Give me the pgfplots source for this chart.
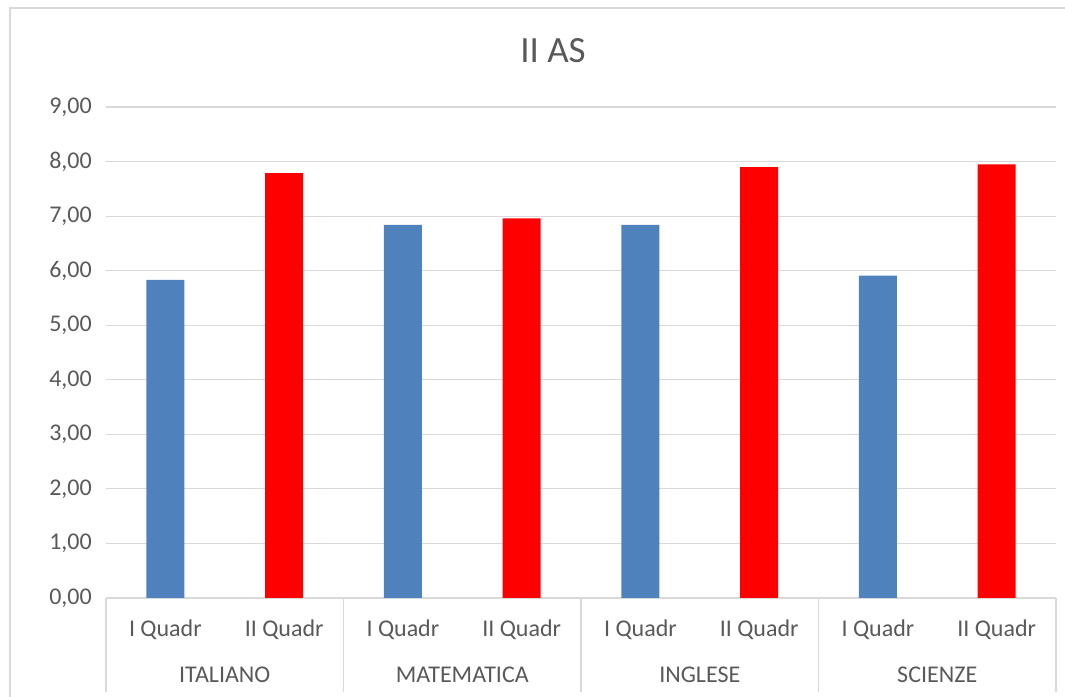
\documentclass[border=0pt]{standalone}
\usepackage{pgfplots}
\pgfplotsset{compat=1.18}
\usepackage{fontspec}
\setmainfont{Carlito}
\definecolor{txt}{HTML}{595959}
\definecolor{grd}{HTML}{D9D9D9}
\definecolor{bblue}{HTML}{4F81BD}
\definecolor{bred}{HTML}{FF0000}
\begin{document}
\begin{tikzpicture}[x=1bp,y=1bp]
\useasboundingbox (0,0) rectangle (1065,697);
\draw[grd, line width=1.2bp] (10,0) -- (10,689) -- (1065,689);
\node[txt, font=\fontsize{37bp}{44bp}\selectfont] at (553,646) {II AS};
\begin{axis}[at={(106bp,99bp)}, anchor=south west, scale only axis,
  width=950bp, height=491bp,
  xmin=-0.5, xmax=7.5, ymin=0, ymax=9, ytick={0,1,...,9},
  axis line style={draw=none},
  ymajorgrids, grid style={grd, line width=1.2bp},
  ytick style={draw=none}, xtick style={draw=none},
  xtick={0,1,...,7},
  xticklabels={I Quadr, II Quadr, I Quadr, II Quadr, I Quadr, II Quadr, I Quadr, II Quadr},
  xticklabel style={anchor=center, inner sep=0pt, yshift=-32bp, text=txt, font=\fontsize{24bp}{28bp}\selectfont},
  yticklabel style={anchor=east, inner sep=0pt, xshift=-14bp, text=txt, font=\fontsize{24bp}{28bp}\selectfont},
  /pgf/number format/.cd, fixed, fixed zerofill, precision=2, use comma, assume math mode=true,
  /pgfplots/.cd,
  clip=false,
]
\addplot[ybar, bar shift=0pt, bar width=38bp, fill=bblue, draw=none]
  coordinates {(0,5.83) (2,6.84) (4,6.84) (6,5.91)};
\addplot[ybar, bar shift=0pt, bar width=38bp, fill=bred, draw=none]
  coordinates {(1,7.79) (3,6.96) (5,7.90) (7,7.95)};
\draw[grd, line width=1.2bp] (axis cs:-0.5,0) -- ([yshift=-94bp]axis cs:-0.5,0);
\draw[grd, line width=1.2bp] (axis cs:1.5,0) -- ([yshift=-94bp]axis cs:1.5,0);
\draw[grd, line width=1.2bp] (axis cs:3.5,0) -- ([yshift=-94bp]axis cs:3.5,0);
\draw[grd, line width=1.2bp] (axis cs:5.5,0) -- ([yshift=-94bp]axis cs:5.5,0);
\draw[grd, line width=1.2bp] (axis cs:7.5,0) -- ([yshift=-94bp]axis cs:7.5,0);
\node[txt, font=\fontsize{24bp}{28bp}\selectfont, inner sep=0pt] at ([yshift=-77bp]axis cs:0.5,0) {ITALIANO};
\node[txt, font=\fontsize{24bp}{28bp}\selectfont, inner sep=0pt] at ([yshift=-77bp]axis cs:2.5,0) {MATEMATICA};
\node[txt, font=\fontsize{24bp}{28bp}\selectfont, inner sep=0pt] at ([yshift=-77bp]axis cs:4.5,0) {INGLESE};
\node[txt, font=\fontsize{24bp}{28bp}\selectfont, inner sep=0pt] at ([yshift=-77bp]axis cs:6.5,0) {SCIENZE};
\end{axis}
\end{tikzpicture}
\end{document}
